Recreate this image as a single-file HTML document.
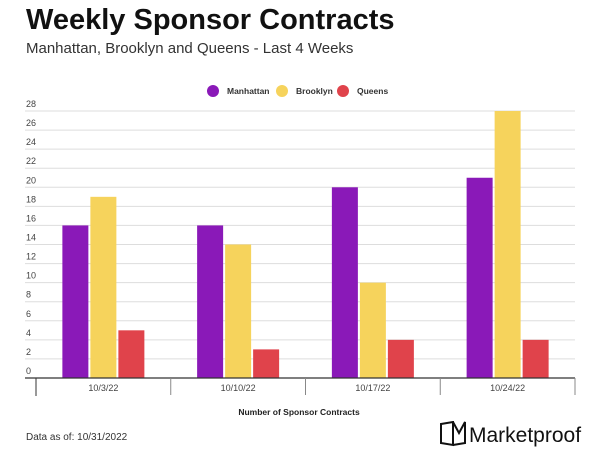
<!DOCTYPE html>
<html><head><meta charset="utf-8"><style>
body{margin:0;background:#fff;font-family:"Liberation Sans",sans-serif;}
#wrap{position:relative;width:614px;height:466px;overflow:hidden;}
.t{position:absolute;white-space:nowrap;}
</style></head><body>
<div id="wrap">
<div class="t" style="left:26px;top:4px;font-size:29px;font-weight:bold;color:#111;">Weekly Sponsor Contracts</div>
<div class="t" style="left:26px;top:40px;font-size:15px;color:#333;">Manhattan, Brooklyn and Queens - Last 4 Weeks</div>
<svg id="chart" width="614" height="466" style="position:absolute;left:0;top:0"></svg>
<div class="t" style="left:26px;top:432px;font-size:10px;color:#333;">Data as of: 10/31/2022</div>
<div class="t" style="left:439px;top:421px;font-size:21px;color:#111;">
<svg width="30" height="26" style="vertical-align:-5px"><path d="M2 3 L14 1 L14 24 L2 22 Z M14 1 L20 12 L26 1 L26 22 L14 24" fill="none" stroke="#111" stroke-width="2"/></svg>Marketproof</div>
</div>
<script>
const categories=["10/3/22","10/10/22","10/17/22","10/24/22"];
const seriesNames=["Manhattan","Brooklyn","Queens"];
const manhattan=[16,16,20,21];
const brooklyn=[19,14,10,28];
const queens=[5,3,4,4];
const yTicks=[0,2,4,6,8,10,12,14,16,18,20,22,24,26,28];
const colors=["#8a19b8","#f6d35c","#e0434b"];
const svg=document.getElementById('chart');
const NS="http://www.w3.org/2000/svg";
function mk(tag,attrs){const e=document.createElementNS(NS,tag);for(const k in attrs)e.setAttribute(k,attrs[k]);svg.appendChild(e);return e;}
const x0=36,x1=575,y0=378,y1=111,yMax=28;
function yScale(v){return y0-(v/yMax)*(y0-y1);}
const bandW=(x1-x0)/categories.length;
function xBand(i){return x0+i*bandW;}
yTicks.forEach(v=>{
 const y=yScale(v);
 if(v>0){const l=mk('line',{x1:25,x2:x1,y1:y,y2:y,stroke:'#ddd','stroke-width':1});
 
 }
 const t=mk('text',{x:26,y:y-4,'font-size':9,fill:'#444','font-family':'Liberation Sans, sans-serif'});
 t.textContent=v;
 
 
});
const series=[manhattan,brooklyn,queens];
const bw=26,gap=2,gw=3*bw+2*gap;
categories.forEach((c,i)=>{
 const cx=xBand(i)+bandW/2;
 series.forEach((s,j)=>{
  const x=cx-gw/2+j*(bw+gap);
  const r=mk('rect',{x:x,y:yScale(s[i]),width:bw,height:y0-yScale(s[i]),fill:colors[j]});
  
  
 });
 const t=mk('text',{x:cx,y:391,'font-size':9,fill:'#444','text-anchor':'middle','font-family':'Liberation Sans, sans-serif'});
 t.textContent=c;
 
 
});
const ax=mk('line',{x1:25,x2:x1,y1:y0,y2:y0,stroke:'#333','stroke-width':1.3});


for(let i=0;i<=categories.length;i++){
 const x=xBand(i);
 const tk=mk('line',{x1:x,x2:x,y1:y0,y2:i==0?396:395,stroke:i==0?'#333':'#888','stroke-width':1});
 
 
}
const xt=mk('text',{x:299,y:415,'font-size':8.5,'font-weight':'bold',fill:'#222','text-anchor':'middle','font-family':'Liberation Sans, sans-serif'});
xt.textContent="Number of Sponsor Contracts";


const legX=[213,282,343];
seriesNames.forEach((n,j)=>{
 const c=mk('circle',{cx:legX[j],cy:91,r:6,fill:colors[j]});
 
 
 const t=mk('text',{x:legX[j]+14,y:94,'font-size':8.5,'font-weight':'bold',fill:'#333','font-family':'Liberation Sans, sans-serif'});
 t.textContent=n;
 
 
});
</script>
</body></html>
